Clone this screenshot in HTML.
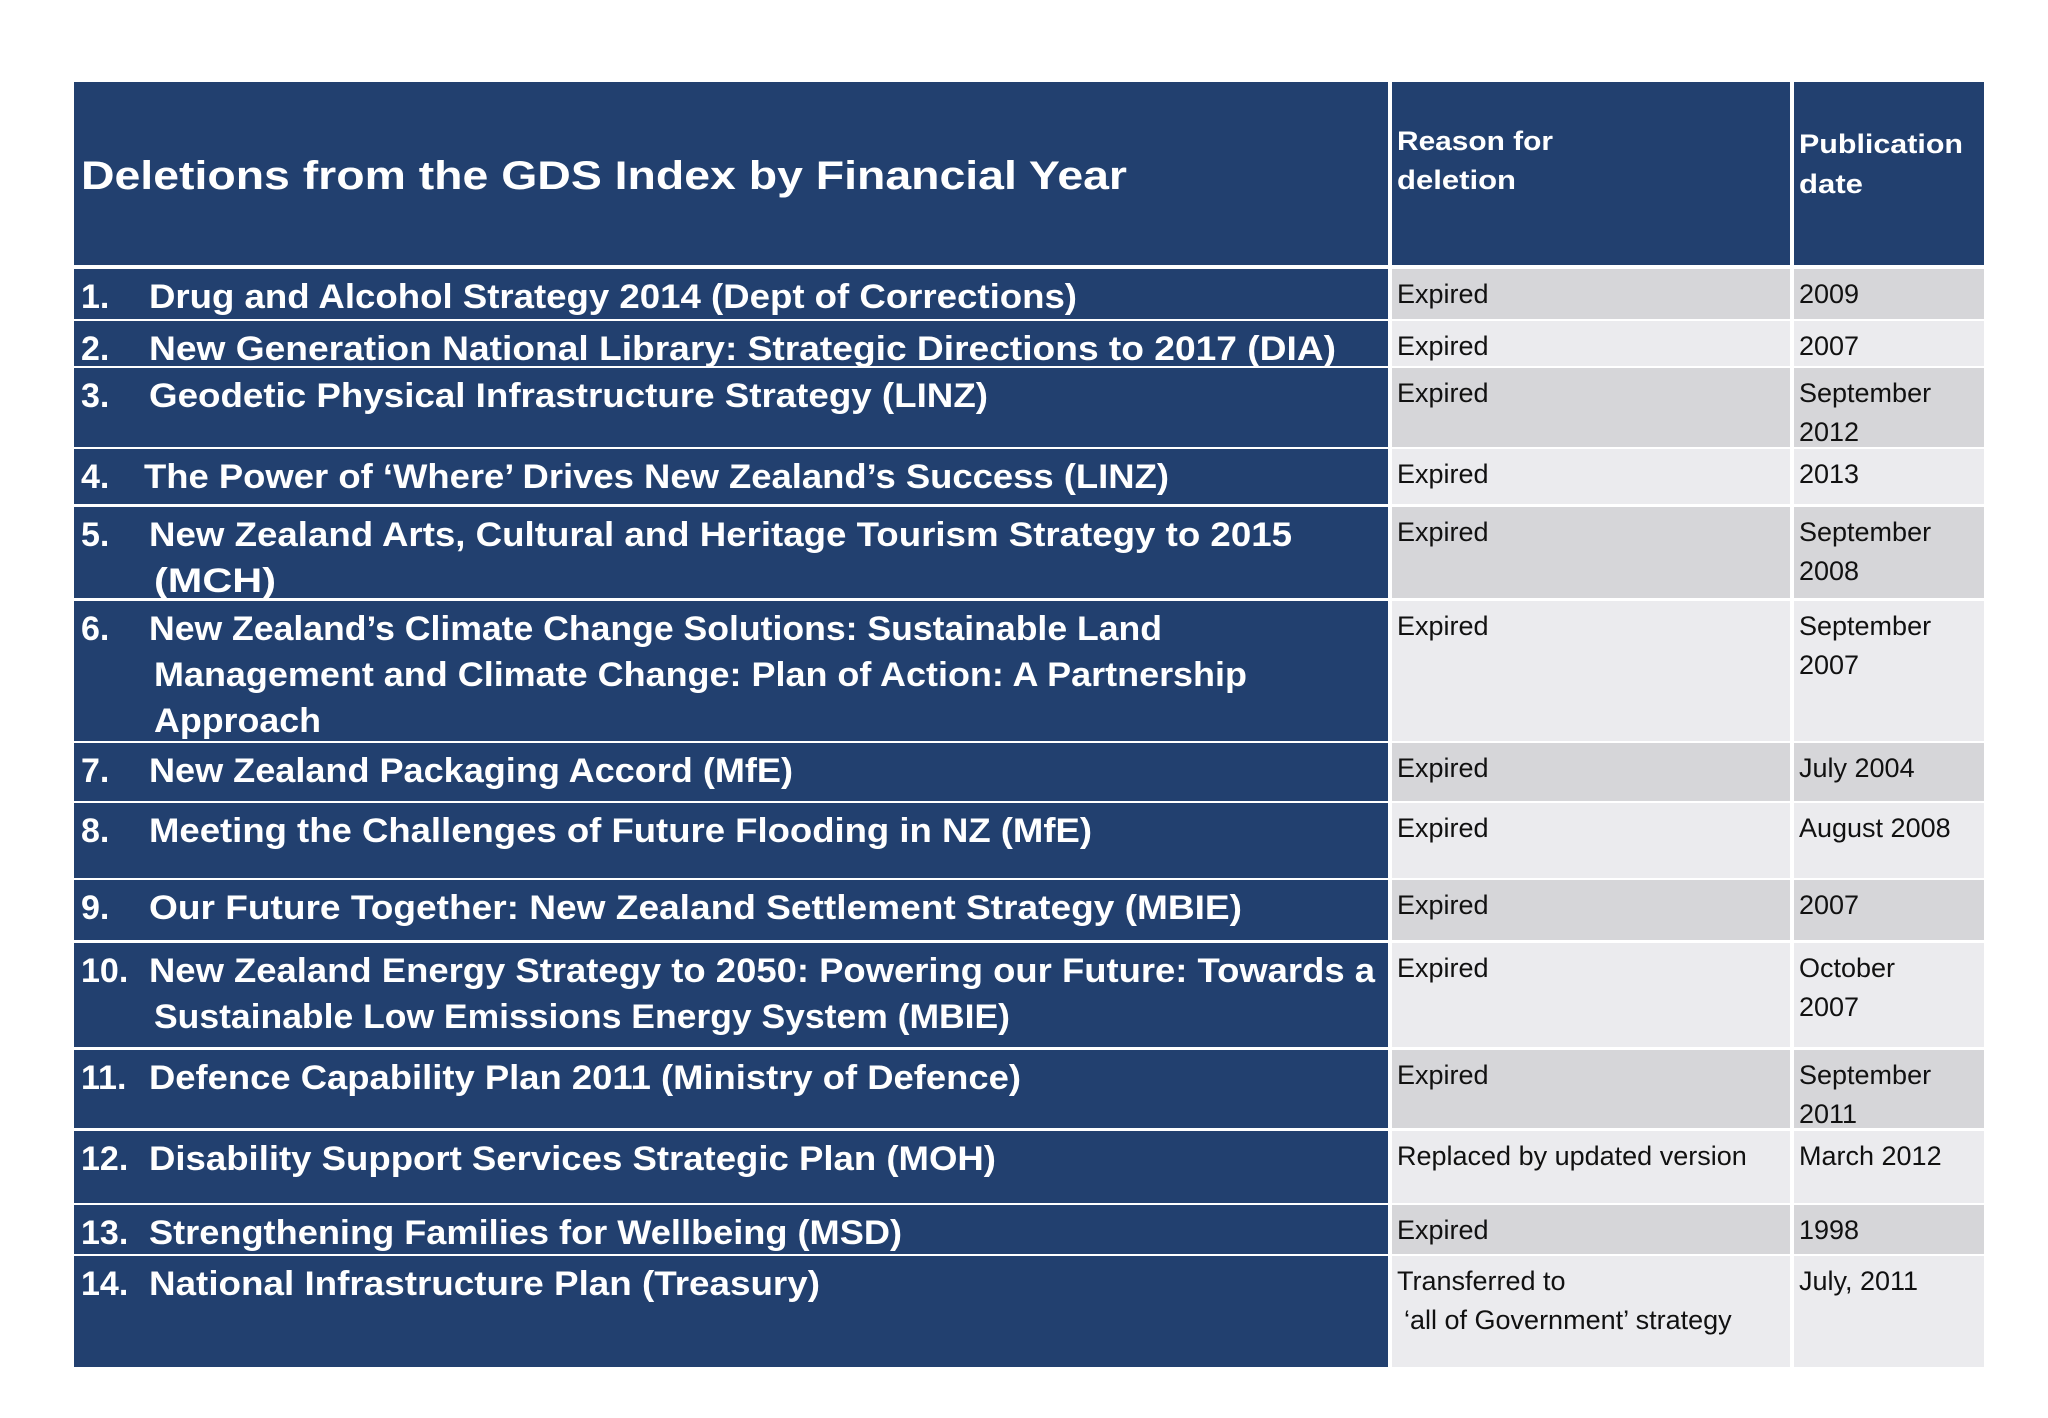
<!DOCTYPE html>
<html><head><meta charset="utf-8"><style>
html,body{margin:0;padding:0;background:#fff}
svg{display:block}
text{font-family:"Liberation Sans",sans-serif}
</style></head><body>
<svg id="s" width="2048" height="1418" viewBox="0 0 2048 1418">
<rect x="0" y="0" width="2048" height="1418" fill="#fff"/>
<g id="g"></g>
</svg>
<script>
const titles = [
 ["Drug and Alcohol Strategy 2014 (Dept of Corrections)"],
 ["New Generation National Library: Strategic Directions to 2017 (DIA)"],
 ["Geodetic Physical Infrastructure Strategy (LINZ)"],
 ["The Power of \u2018Where\u2019 Drives New Zealand\u2019s Success (LINZ)"],
 ["New Zealand Arts, Cultural and Heritage Tourism Strategy to 2015","(MCH)"],
 ["New Zealand\u2019s Climate Change Solutions: Sustainable Land","Management and Climate Change: Plan of Action: A Partnership","Approach"],
 ["New Zealand Packaging Accord (MfE)"],
 ["Meeting the Challenges of Future Flooding in NZ (MfE)"],
 ["Our Future Together: New Zealand Settlement Strategy (MBIE)"],
 ["New Zealand Energy Strategy to 2050:  Powering our Future: Towards a","Sustainable Low Emissions Energy System (MBIE)"],
 ["Defence Capability Plan 2011 (Ministry of Defence)"],
 ["Disability Support Services Strategic Plan (MOH)"],
 ["Strengthening Families for Wellbeing (MSD)"],
 ["National Infrastructure Plan (Treasury)"]
];
const reasons = [["Expired"],["Expired"],["Expired"],["Expired"],["Expired"],["Expired"],["Expired"],["Expired"],["Expired"],["Expired"],["Expired"],["Replaced by updated version"],["Expired"],["Transferred to","\u2018all of Government\u2019 strategy"]];
const dates = [["2009"],["2007"],["September","2012"],["2013"],["September","2008"],["September","2007"],["July 2004"],["August 2008"],["2007"],["October","2007"],["September","2011"],["March 2012"],["1998"],["July, 2011"]];
const rowTops = [269,321,368,449,507,601,743,803,880,943,1050,1131,1205,1256];
const rowBots = [319,366,447,504,598,741,801,878,940,1047,1128,1203,1254,1367];
// measured text widths (px) of main-column lines
const lineEnds = [[1077],[1336],[988],[1169],[1292,276],[1162,1247,321],[793],[1092],[1242],[1375,1010],[1021],[996],[902],[820]];

const g = document.getElementById('g');
const NS = 'http://www.w3.org/2000/svg';
function mk(tag, attrs, parent){const e=document.createElementNS(NS,tag);for(const k in attrs)e.setAttribute(k,attrs[k]);(parent||g).appendChild(e);return e;}
function txt(x,y,s,size,fill,weight,len){const t=mk('text',{x:x,y:y,'font-size':size,fill:fill,'font-weight':weight});t.textContent=s;if(len){t.setAttribute('textLength',len);t.setAttribute('lengthAdjust','spacingAndGlyphs');}return t;}
const NAVY='#22406f';
const C0=74,C1=1388,C2=1392,C3=1790,C4=1794,C5=1984;

// header
let h=mk('rect',{x:C0,y:82,width:C1-C0,height:183,fill:NAVY});

h=mk('rect',{x:C2,y:82,width:C3-C2,height:183,fill:NAVY});

h=mk('rect',{x:C4,y:82,width:C5-C4,height:183,fill:NAVY});

let t=txt(81,189,'Deletions from the GDS Index by Financial Year',40,'#fff','bold',1046);

t=txt(1397,150,'Reason for',27,'#fff','bold',156);

txt(1397,189,'deletion',27,'#fff','bold',119);
t=txt(1799,153,'Publication',27,'#fff','bold',164);

txt(1799,193,'date',27,'#fff','bold',64);

for(let i=0;i<titles.length;i++){
  const top=rowTops[i],hgt=rowBots[i]-top;
  const shade = i%2===0 ? '#d6d6d9' : '#ebebee';
  let r=mk('rect',{x:C0,y:top,width:C1-C0,height:hgt,fill:NAVY});
  
  r=mk('rect',{x:C2,y:top,width:C3-C2,height:hgt,fill:shade});
  
  r=mk('rect',{x:C4,y:top,width:C5-C4,height:hgt,fill:shade});
  
  let n=txt(81,top+39,(i+1)+'.',34,'#fff','bold');
  
  titles[i].forEach((s,j)=>{
    const x = j===0 ? (i===3?144:149) : 154;
    const e=txt(x,top+39+j*46,s,34,'#fff','bold',lineEnds[i][j]-x);
    
    
  });
  reasons[i].forEach((s,j)=>{
    const e=txt(j===0?1397:1404,top+34+j*39,s,27,'#111','normal');
    
    
  });
  dates[i].forEach((s,j)=>{
    const e=txt(1799,top+34+j*39,s,27,'#111','normal');
    
    
  });
}
</script>
</body></html>
